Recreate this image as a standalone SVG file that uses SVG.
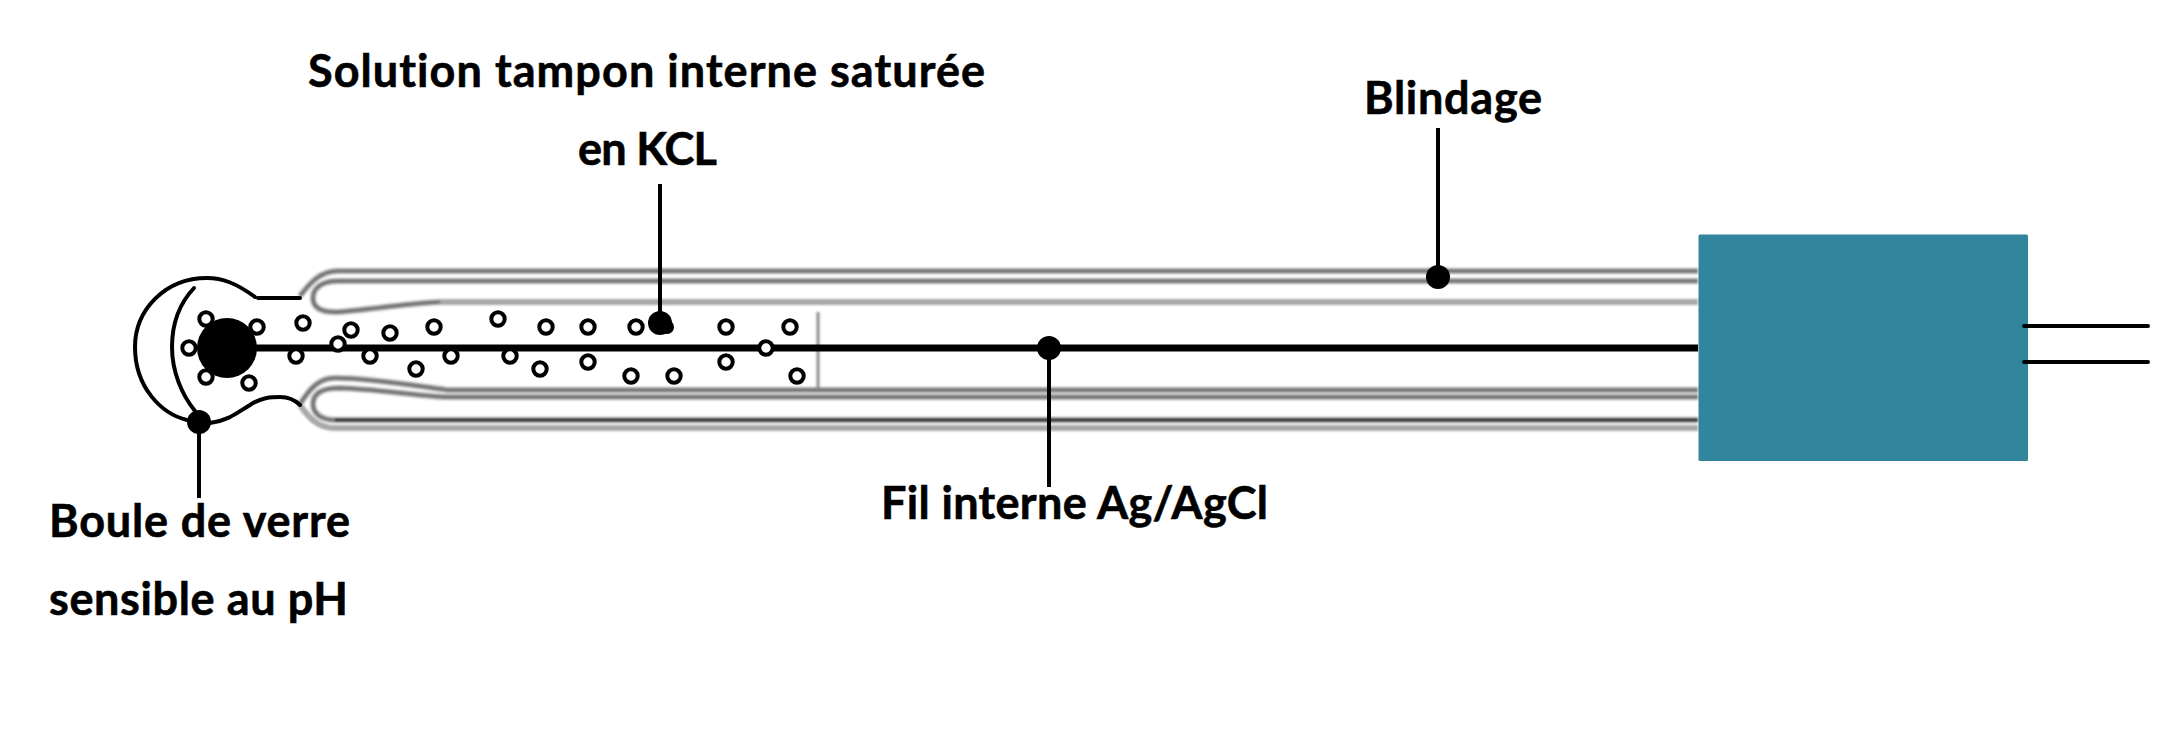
<svg xmlns="http://www.w3.org/2000/svg" width="2183" height="731" viewBox="0 0 2183 731">
<defs><filter id="soft" x="-5%" y="-20%" width="110%" height="140%"><feGaussianBlur stdDeviation="0.8"/></filter></defs>
<style>
text{font-family:"Lato","Carlito","Liberation Sans",sans-serif;font-weight:700;font-size:45px;fill:#000;stroke:#000;stroke-width:.6;font-variant-ligatures:none}
.g{fill:none;stroke:#a8a8a8;stroke-width:6}
.gc{fill:none;stroke:#666;stroke-width:2.5}
.k{fill:none;stroke:#000;stroke-width:4;stroke-linecap:round}
.b{fill:#fff;stroke:#000;stroke-width:4}
.l{stroke:#000;stroke-width:4;fill:none}
</style>
<rect width="2183" height="731" fill="#fff"/>
<g id="electrode">
<g filter="url(#soft)">
<path class="g" d="M300 296C310 283 320 271 338 271H1698"/>
<path class="gc" d="M300 296C310 283 320 271 338 271H1698"/>
<path class="g" d="M1698 281H338C322 281 313 288 313 298C313 308 322 312 335 312C360 311 400 304 440 302H1698"/>
<path class="gc" d="M1698 281H338C322 281 313 288 313 298C313 308 322 312 335 312C360 311 400 304 440 302"/>
<path class="g" d="M300 404C309 390 318 378 335 378C370 378 410 385 447 390H1698"/>
<path class="gc" d="M300 404C309 390 318 378 335 378C370 378 410 385 447 390H1698"/>
<path class="g" d="M1698 397H445C410 395 375 389 340 388C322 388 313 393 313 404C313 414 322 420 335 420H1698"/>
<path class="gc" d="M1698 397H445C410 395 375 389 340 388C322 388 313 393 313 404C313 414 322 420 335 420"/>
<path class="g" d="M300 405C309 418 318 428 335 428H1698"/>
<path d="M335 420H1698" fill="none" stroke="#111" stroke-width="3"/>
<path d="M818 312V388" fill="none" stroke="#8c8c8c" stroke-width="3"/>
</g>
<path class="k" d="M255 297C236 283 222 278 207 278C165 278 135 310 135 347C135 388 162 414 187 420L210 423C230 420 238 412 250 405C262 397 272 397 280 397C288 397 295 400 300 405"/>
<path class="k" d="M194 288C178 305 172 325 172 347C172 372 182 395 195 411"/>
<path class="k" d="M258 298H300"/>
<path d="M227 348H1698" stroke="#000" stroke-width="7" fill="none"/>
<circle cx="227" cy="348" r="30" fill="#000"/>
</g>
<g id="bubbles">
<circle class="b" cx="206" cy="319" r="6.7"/><circle class="b" cx="257" cy="327" r="6.7"/><circle class="b" cx="189" cy="348" r="6.7"/><circle class="b" cx="206" cy="377" r="6.7"/><circle class="b" cx="249" cy="383" r="6.7"/>
<circle class="b" cx="303" cy="323" r="6.7"/><circle class="b" cx="296" cy="356" r="6.7"/><circle class="b" cx="351" cy="330" r="6.7"/><circle class="b" cx="338" cy="344" r="6.7"/><circle class="b" cx="370" cy="356" r="6.7"/>
<circle class="b" cx="390" cy="333" r="6.7"/><circle class="b" cx="434" cy="327" r="6.7"/><circle class="b" cx="416" cy="369" r="6.7"/><circle class="b" cx="451" cy="356" r="6.7"/><circle class="b" cx="498" cy="319" r="6.7"/><circle class="b" cx="510" cy="356" r="6.7"/>
<circle class="b" cx="546" cy="327" r="6.7"/><circle class="b" cx="588" cy="327" r="6.7"/><circle class="b" cx="636" cy="327" r="6.7"/><circle class="b" cx="726" cy="327" r="6.7"/><circle class="b" cx="790" cy="327" r="6.7"/>
<circle class="b" cx="766" cy="348" r="6.7"/><circle class="b" cx="540" cy="369" r="6.7"/><circle class="b" cx="588" cy="362" r="6.7"/><circle class="b" cx="631" cy="376" r="6.7"/><circle class="b" cx="674" cy="376" r="6.7"/><circle class="b" cx="726" cy="362" r="6.7"/><circle class="b" cx="797" cy="376" r="6.7"/>
</g>
<g id="box"><rect x="1698.5" y="234.5" width="329.5" height="226.5" rx="1.5" fill="#31859c"/></g>
<g id="connectors">
<path class="l" d="M2024 326H2148M2024 362H2148" stroke-linecap="round"/>
<path class="l" d="M660 184V320M1438 128V277M1049 348V487M199 422V498"/>
<circle cx="660" cy="323" r="12"/><circle cx="667" cy="327" r="7"/>
<circle cx="1438" cy="277" r="12"/><circle cx="1049" cy="348" r="12"/><circle cx="199" cy="422" r="12"/>
</g>
<g id="labels">
<text x="308" y="87" textLength="677">Solution tampon interne saturée</text>
<text x="578" y="165" textLength="139">en KCL</text>
<text x="1364" y="114" textLength="178">Blindage</text>
<text x="881" y="519" textLength="387">Fil interne Ag/AgCl</text>
<text x="49" y="537" textLength="301">Boule de verre</text>
<text x="49" y="615" textLength="299">sensible au pH</text>
</g>
</svg>
